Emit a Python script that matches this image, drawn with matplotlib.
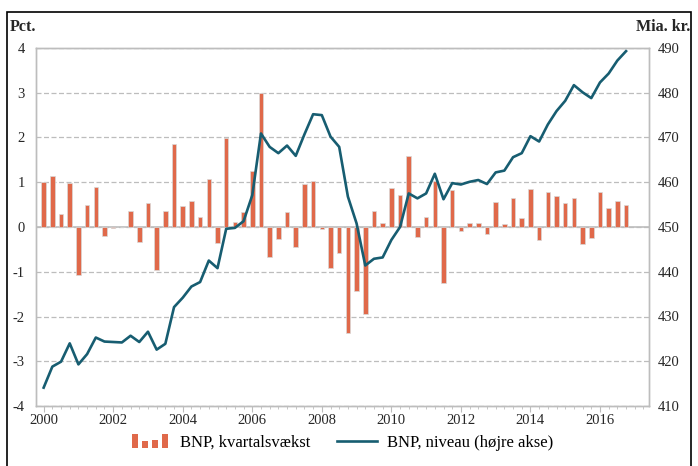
import matplotlib
matplotlib.use('Agg')
import matplotlib.pyplot as plt
import numpy as np
from matplotlib.patches import Rectangle
from matplotlib.legend_handler import HandlerBase
from matplotlib.lines import Line2D
from matplotlib.ticker import MultipleLocator

start_year = 2000
growth = [1.0, 1.14, 0.28, 0.99, -1.08, 0.5, 0.9, -0.2, -0.03, -0.01,
          0.35, -0.33, 0.53, -0.95, 0.35, 1.86, 0.48, 0.59, 0.23, 1.08,
          -0.36, 1.98, 0.11, 0.34, 1.26, 3.0, -0.66, -0.27, 0.34, -0.45,
          0.95, 1.02, -0.05, -0.92, -0.59, -2.37, -1.43, -1.95, 0.35, 0.09,
          0.87, 0.71, 1.59, -0.23, 0.22, 1.02, -1.25, 0.83, -0.08, 0.08,
          0.1, -0.16, 0.56, 0.07, 0.64, 0.21, 0.84, -0.29, 0.78, 0.7,
          0.54, 0.65, -0.38, -0.24, 0.78, 0.43, 0.59, 0.49]
level = [414.1, 418.8, 419.9, 424.0, 419.3, 421.6, 425.3, 424.4, 424.3, 424.2,
         425.7, 424.3, 426.6, 422.6, 423.9, 432.1, 434.2, 436.7, 437.7, 442.5,
         440.8, 449.6, 449.8, 451.3, 457.1, 470.9, 467.9, 466.5, 468.2, 465.9,
         470.7, 475.2, 475.0, 470.2, 467.9, 456.8, 450.8, 441.4, 442.9, 443.2,
         447.1, 450.0, 457.5, 456.4, 457.5, 461.9, 456.2, 459.8, 459.5, 460.1,
         460.5, 459.6, 462.2, 462.6, 465.6, 466.5, 470.3, 469.1, 472.9, 475.9,
         478.2, 481.7, 480.1, 478.8, 482.3, 484.3, 487.2, 489.3]
year_ticks = list(range(2000, 2017, 2))
left_ticks = [4, 3, 2, 1, 0, -1, -2, -3, -4]
right_ticks = [490, 480, 470, 460, 450, 440, 430, 420, 410]
bar_label = 'BNP, kvartalsvækst'
line_label = 'BNP, niveau (højre akse)'

BAR_C = '#E0694A'
LINE_C = '#175D71'
GRID_C = '#BDBDBD'
TXT_C = '#262626'

plt.rcParams['font.family'] = ['Liberation Serif', 'DejaVu Serif']

x = start_year + np.arange(len(growth)) / 4.0

fig = plt.figure(figsize=(6.98, 4.66), dpi=100)
ax = fig.add_axes([36/698, 1-406/466, (649-36)/698, (406-48)/466])
ax2 = ax.twinx()

ax.set_axisbelow(True)
ax.yaxis.grid(True, linestyle=(0, (4, 2)), color=GRID_C, lw=0.9)
ax.bar(x, growth, width=0.13, color=BAR_C, edgecolor='#D9D9D9', linewidth=0.5, zorder=2)
ax.axhline(0, color=GRID_C, lw=1.2, zorder=1)
ax2.plot(x, level, color=LINE_C, lw=1.9)

ax.set_xlim(1999.78, 2017.41)
ax.set_ylim(-4, 4)
ax2.set_ylim(410, 490)
ax.set_yticks(left_ticks)
ax.set_yticklabels([str(t) for t in left_ticks])
ax2.set_yticks(right_ticks)
ax.set_xticks(year_ticks)
ax.xaxis.set_minor_locator(MultipleLocator(0.25))

for a in (ax, ax2):
    for s in a.spines.values():
        s.set_color(GRID_C)
        s.set_linewidth(1.0)
ax.tick_params(axis='y', length=0, labelsize=10.5, colors=TXT_C, pad=8)
ax2.tick_params(axis='y', length=0, labelsize=10.5, colors=TXT_C, pad=6)
ax.tick_params(axis='x', which='major', length=4, color=GRID_C, labelsize=10.5, labelcolor=TXT_C, pad=2)
ax.tick_params(axis='x', which='minor', length=2, color=GRID_C)

fig.text(10/698, 1-27/466, 'Pct.', fontsize=11.5, weight='bold', color=TXT_C, va='center', ha='left')
fig.text(690/698, 1-27/466, 'Mia. kr.', fontsize=11.5, weight='bold', color=TXT_C, va='center', ha='right')


class BarsHandler(HandlerBase):
    def create_artists(self, legend, orig_handle, xdescent, ydescent, width, height, fontsize, trans):
        heights = [1.0, 0.5, 0.55, 1.0]
        n = len(heights)
        step = width / n
        arts = []
        for i, h in enumerate(heights):
            r = Rectangle((-xdescent + i*step + step*0.2, -ydescent - height*0.05), step*0.6, height*1.15*h,
                          facecolor=BAR_C, edgecolor='none', transform=trans)
            arts.append(r)
        return arts


bar_handle = Rectangle((0, 0), 1, 1, facecolor=BAR_C)
line_handle = Line2D([], [], color=LINE_C, lw=1.9)
fig.legend([bar_handle, line_handle], [bar_label, line_label],
           handler_map={Rectangle: BarsHandler()},
           loc='center', bbox_to_anchor=(342/698, 1-443/466), ncol=2, frameon=False,
           fontsize=12, handlelength=2.4, columnspacing=1.6, handletextpad=0.6)

frame = Rectangle((7/698, -0.05), (691-7)/698, (1-12/466) + 0.05, transform=fig.transFigure,
                  fill=False, edgecolor='black', lw=1.2)
fig.patches.append(frame)

fig.savefig('out.png', dpi=100)
